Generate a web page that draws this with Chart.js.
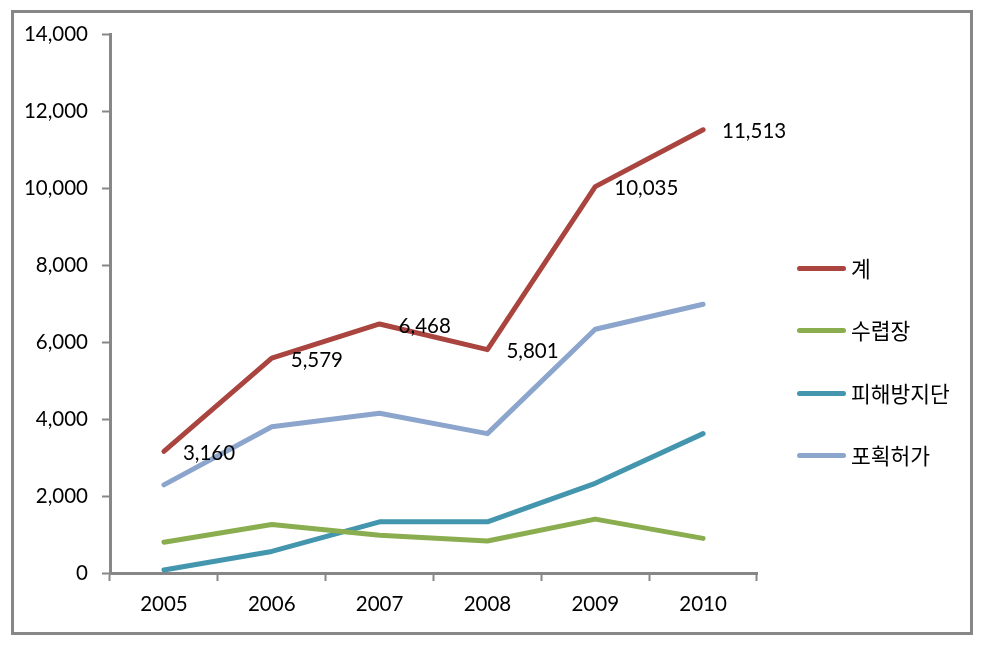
<!DOCTYPE html>
<html lang="ko">
<head>
  <meta charset="UTF-8">
  <title>연도별 포획 현황</title>
  <script src="https://cdn.jsdelivr.net/npm/chart.js"></script>
  <style>
    body {
      margin: 0;
      background: #fff;
    }
    #wrap {
      position: relative;
      width: 985px;
      height: 648px;
    }
    #frame {
      position: absolute;
      left: 11px;
      top: 10px;
      width: 956px;
      height: 619px;
      border: 3px solid #878787;
    }
    #legend {
      position: absolute;
      left: 797px;
      top: 252px;
      font-family: "Noto Sans CJK KR", sans-serif;
      font-size: 21.5px;
      color: #000;
    }
    .item {
      height: 62.3px;
      display: flex;
      align-items: flex-start;
    }
    .item span.line {
      display: inline-block;
      width: 49px;
      height: 5px;
      border-radius: 3px;
      margin-top: 14px;
      margin-right: 5px;
    }
    .item span.txt {
      line-height: 32px;
    }
  </style>
</head>
<body>
  <div id="wrap">
    <div id="frame"></div>
    <canvas id="grafico" width="985" height="648"></canvas>
    <div id="legend"></div>
  </div>

  <script>
    const years = ["2005", "2006", "2007", "2008", "2009", "2010"];
    const total = [3160, 5579, 6468, 5801, 10035, 11513];
    const huntingGround = [800, 1260, 980, 830, 1400, 900];
    const damageControl = [80, 560, 1330, 1330, 2330, 3620];
    const capturePermit = [2290, 3800, 4150, 3620, 6330, 6980];

    const names = ["계", "수렵장", "피해방지단", "포획허가"];
    const colors = ["#A9443F", "#8AAD4F", "#4396AD", "#8CA5CC"];
    const font = "Lato, 'Noto Sans CJK KR', sans-serif";

    // labels only for the total line, to the right of each point
    const totalLabels = {
      id: "totalLabels",
      afterDatasetsDraw(chart) {
        const ctx = chart.ctx;
        const meta = chart.getDatasetMeta(0);
        ctx.save();
        ctx.font = "20.5px " + font;
        ctx.fillStyle = "#000";
        ctx.textAlign = "left";
        ctx.textBaseline = "middle";
        meta.data.forEach((pt, i) => {
          ctx.fillText(total[i].toLocaleString("en-US"), pt.x + 19, pt.y + 2);
        });
        ctx.restore();
      }
    };

    const series = [total, huntingGround, damageControl, capturePermit];
    const datasets = series.map((d, i) => ({
      label: names[i],
      data: d,
      borderColor: colors[i],
      backgroundColor: colors[i],
      borderWidth: 5,
      borderCapStyle: "round",
      borderJoinStyle: "round",
      pointRadius: 0,
      tension: 0,
      fill: false
    }));

    const ctx = document.getElementById("grafico").getContext("2d");
    const chart = new Chart(ctx, {
      type: "line",
      data: { labels: years, datasets: datasets },
      options: {
        responsive: false,
        animation: false,
        layout: { padding: { left: 0, top: 34, right: 228, bottom: 0 } },
        plugins: {
          legend: { display: false },
          tooltip: { enabled: false }
        },
        scales: {
          x: {
            offset: true,
            grid: {
              offset: true,
              drawOnChartArea: false,
              drawTicks: true,
              tickLength: 8,
              tickWidth: 2,
              color: "#878787"
            },
            border: { color: "#878787", width: 3 },
            ticks: {
              color: "#000",
              font: { family: font, size: 20.5 },
              padding: 11,
              maxRotation: 0
            },
            afterFit(scale) { scale.height = 75; }
          },
          y: {
            min: 0,
            max: 14000,
            ticks: {
              stepSize: 2000,
              color: "#000",
              font: { family: font, size: 20.5 },
              padding: 14
            },
            grid: {
              drawOnChartArea: false,
              drawTicks: true,
              tickLength: 8,
              tickWidth: 2,
              color: "#878787"
            },
            border: { color: "#878787", width: 3 },
            afterFit(scale) { scale.width = 110; }
          }
        }
      },
      plugins: [totalLabels]
    });

    // legend on the right
    const legendEl = document.getElementById("legend");
    names.forEach((n, i) => {
      legendEl.innerHTML += `<div class="item"><span class="line" style="background:${colors[i]}"></span><span class="txt">${n}</span></div>`;
    });
  </script>
</body>
</html>
